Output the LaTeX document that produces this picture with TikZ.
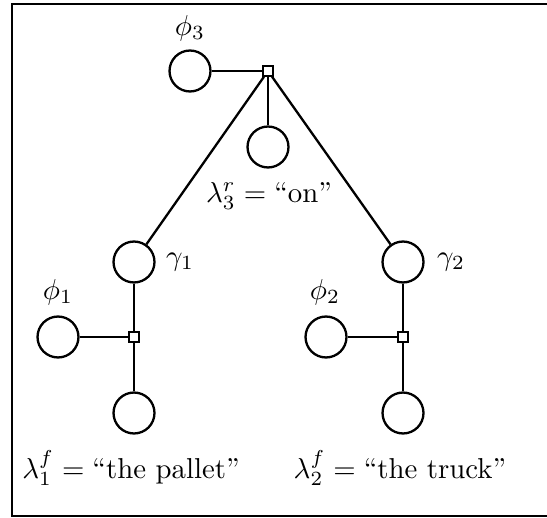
\documentclass[tikz,border=0pt]{standalone}
\usepackage{amsmath}
\begin{document}
\begin{tikzpicture}[
    x=0.0122cm, y=-0.0122cm,
    var/.style={draw, circle, line width=0.8pt, minimum size=0.5cm, inner sep=0pt},
    fac/.style={draw, rectangle, line width=0.6pt, minimum size=0.12cm,
                inner sep=0pt, fill=white},
    edge/.style={line width=0.8pt},
    lbl/.style={inner sep=0pt}
  ]
  \useasboundingbox (0,0) rectangle (547,517);
  \draw[line width=0.7pt] (547,4) -- (12,4) -- (12,516) -- (547,516);

  % top factor
  \node[fac] (f3) at (268,71) {};
  \node[var] (phi3) at (190,71) {};
  \node[var] (l3) at (268,147) {};
  \node[lbl] (phi3lbl) at (190,28) {$\phi_3$};
  \node[lbl] (l3lbl) at (269,196) {$\lambda_3^r = \text{``on''}$};

  % left branch
  \node[var] (g1) at (134,262) {};
  \node[fac] (f1) at (134,337) {};
  \node[var] (phi1) at (58,337) {};
  \node[var] (l1) at (134,413) {};
  \node[lbl] (g1lbl) at (180,262) {$\gamma_1$};
  \node[lbl] (phi1lbl) at (58,292) {$\phi_1$};
  \node[lbl] (l1lbl) at (131,468) {$\lambda_1^f = \text{``the pallet''}$};

  % right branch
  \node[var] (g2) at (403,262) {};
  \node[fac] (f2) at (403,337) {};
  \node[var] (phi2) at (326,337) {};
  \node[var] (l2) at (403,413) {};
  \node[lbl] (g2lbl) at (451,262) {$\gamma_2$};
  \node[lbl] (phi2lbl) at (325,292) {$\phi_2$};
  \node[lbl] (l2lbl) at (400,468) {$\lambda_2^f = \text{``the truck''}$};

  \draw[edge] (phi3) -- (f3);
  \draw[edge] (f3) -- (l3);
  \draw[edge] (f3) -- (g1);
  \draw[edge] (f3) -- (g2);
  \draw[edge] (g1) -- (f1);
  \draw[edge] (phi1) -- (f1);
  \draw[edge] (f1) -- (l1);
  \draw[edge] (g2) -- (f2);
  \draw[edge] (phi2) -- (f2);
  \draw[edge] (f2) -- (l2);
\end{tikzpicture}
\end{document}
